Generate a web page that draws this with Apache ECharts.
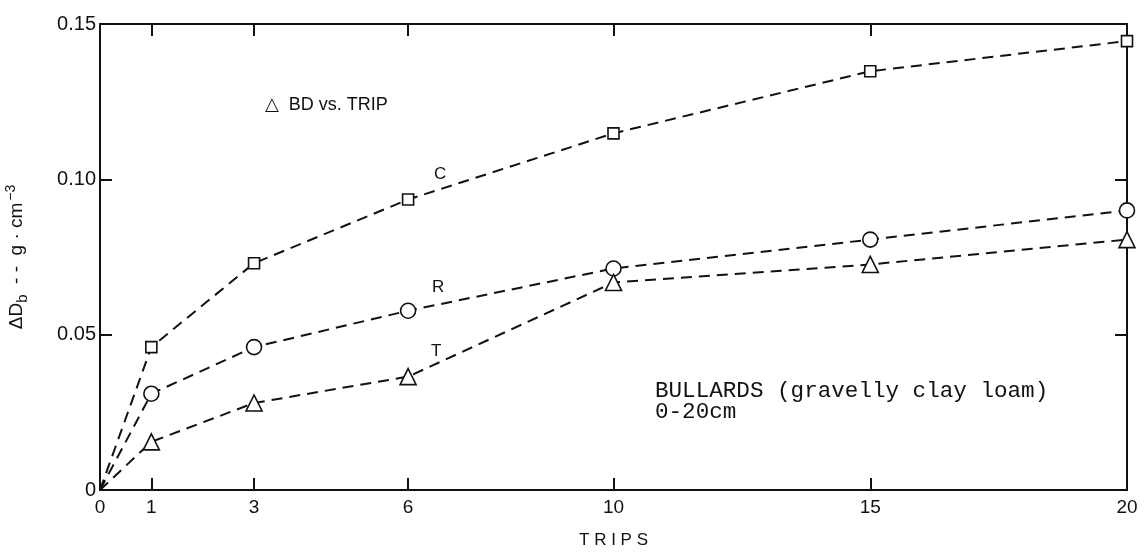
<!DOCTYPE html>
<html>
<head>
<meta charset="utf-8">
<script src="https://cdn.jsdelivr.net/npm/echarts@6/dist/echarts.min.js"></script>
<style>html,body{margin:0;padding:0;background:#fff;}#c{width:1145px;height:552px;}</style>
</head>
<body>
<div id="c"></div>
<script>
// Data
var trips = [0, 1, 3, 6, 10, 15, 20];
var seriesC = [0, 0.046, 0.073, 0.0935, 0.1148, 0.1348, 0.1445];
var seriesR = [0, 0.031, 0.046, 0.0577, 0.0713, 0.0806, 0.090];
var seriesT = [0, 0.0155, 0.028, 0.0365, 0.0668, 0.0726, 0.0806];
var xTicks = [0, 1, 3, 6, 10, 15, 20];
var yTicks = [0, 0.05, 0.10, 0.15];
var yTickLabels = ['0', '0.05', '0.10', '0.15'];

function build(vals) {
  return trips.map(function (t, i) {
    var item = { value: [t, vals[i]] };
    if (i === 0) item.symbol = 'none';
    return item;
  });
}

var chart = echarts.init(document.getElementById('c'), null, { renderer: 'canvas' });
var font = 'Liberation Sans, DejaVu Sans, sans-serif';
var lineStyle = { color: '#111', width: 2, type: [11, 7] };
var markerStyle = { color: '#fff', borderColor: '#111', borderWidth: 1.6 };

function mkSeries(name, vals, symbol, size) {
  return {
    name: name, type: 'line', data: build(vals), symbol: symbol, symbolSize: size,
    showAllSymbol: true, lineStyle: lineStyle, itemStyle: markerStyle,
    animation: false, z: 3
  };
}

var option = {
  backgroundColor: '#fff',
  animation: false,
  grid: { left: 100, right: 18, top: 24, bottom: 62, containLabel: false, outerBoundsMode: 'none' },
  xAxis: [{
    type: 'value', min: 0, max: 20, position: 'bottom',
    name: 'T R I P S', nameLocation: 'middle', nameGap: 42,
    nameTextStyle: { fontFamily: font, fontSize: 17, color: '#111' },
    axisLine: { onZero: false, lineStyle: { color: '#111', width: 2 } },
    axisTick: { inside: true, length: 12, customValues: xTicks, lineStyle: { color: '#111', width: 2 } },
    axisLabel: { customValues: xTicks, fontFamily: font, fontSize: 19, color: '#111', margin: 8 },
    splitLine: { show: false }
  }, {
    type: 'value', min: 0, max: 20, position: 'top',
    axisLine: { show: true, onZero: false, lineStyle: { color: '#111', width: 2 } },
    axisTick: { show: true, inside: true, length: 12, customValues: xTicks, lineStyle: { color: '#111', width: 2 } },
    axisLabel: { show: false },
    splitLine: { show: false }
  }],
  yAxis: [{
    type: 'value', min: 0, max: 0.15, position: 'left',
    name: '{n|ΔD}{sub|b}{n|  - -  g · cm}{sup|−3}', nameLocation: 'middle', nameGap: 70, nameRotate: 90,
    nameTextStyle: {
      color: '#111', fontFamily: font, fontSize: 19,
      rich: {
        n: { fontFamily: font, fontSize: 19, color: '#111', lineHeight: 26, verticalAlign: 'middle' },
        sub: { fontFamily: font, fontSize: 15, color: '#111', lineHeight: 26, verticalAlign: 'bottom', padding: [10, 0, 0, 0] },
        sup: { fontFamily: font, fontSize: 14, color: '#111', lineHeight: 26, verticalAlign: 'top', padding: [0, 0, 10, 2] }
      }
    },
    axisLine: { show: true, onZero: false, lineStyle: { color: '#111', width: 2 } },
    axisTick: { inside: true, length: 12, customValues: yTicks, lineStyle: { color: '#111', width: 2 } },
    axisLabel: {
      customValues: yTicks, fontFamily: font, fontSize: 20, color: '#111', margin: 4,
      formatter: function (v) { var i = yTicks.indexOf(v); return i >= 0 ? yTickLabels[i] : ''; }
    },
    splitLine: { show: false }
  }, {
    type: 'value', min: 0, max: 0.15, position: 'right',
    axisLine: { show: true, onZero: false, lineStyle: { color: '#111', width: 2 } },
    axisTick: { show: true, inside: true, length: 12, customValues: yTicks, lineStyle: { color: '#111', width: 2 } },
    axisLabel: { show: false },
    splitLine: { show: false }
  }],
  graphic: [
    { type: 'text', left: 265, top: 96, style: { text: '△  BD vs. TRIP', font: '18px ' + font, fill: '#111' } },
    { type: 'text', left: 434, top: 166, style: { text: 'C', font: '17px ' + font, fill: '#111' } },
    { type: 'text', left: 432, top: 279, style: { text: 'R', font: '17px ' + font, fill: '#111' } },
    { type: 'text', left: 431, top: 343, style: { text: 'T', font: '17px ' + font, fill: '#111' } },
    { type: 'text', left: 655, top: 380, style: { text: 'BULLARDS (gravelly clay loam)\n0-20cm', font: '22.6px "Liberation Mono", "DejaVu Sans Mono", monospace', fill: '#111', lineHeight: 21 } }
  ],
  series: [
    mkSeries('C', seriesC, 'rect', 11),
    mkSeries('R', seriesR, 'circle', 15),
    mkSeries('T', seriesT, 'triangle', 16)
  ]
};
chart.setOption(option);
</script>
</body>
</html>
